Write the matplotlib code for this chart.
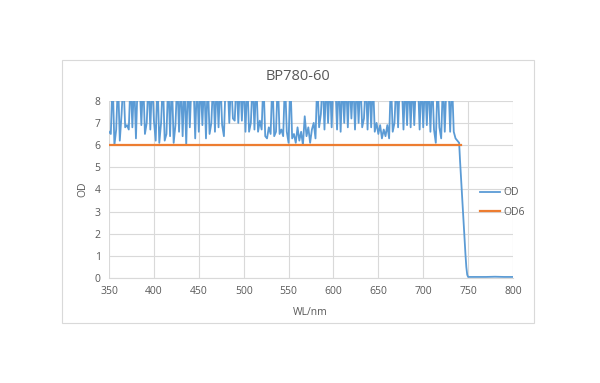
import numpy as np
import matplotlib
matplotlib.use("Agg")
from matplotlib import pyplot as plt
from matplotlib.patches import Rectangle

# OD readings every 2 nm from 350 to 738 nm (values above 8 run off the top)
od_band = [
    6.6, 6.5, 9, 6.0, 6.7, 9, 6.2, 7.4, 9, 6.8,
    6.9, 6.7, 9, 6.8, 9, 6.3, 9, 9, 6.9, 9,
    6.5, 7.0, 9, 6.7, 9, 7.1, 6.2, 9, 6.1, 7.0,
    9, 6.2, 6.5, 9, 6.4, 9, 6.1, 6.9, 9, 6.6,
    9, 6.4, 9, 6.0, 9, 6.8, 9, 9, 6.3, 9,
    6.6, 9, 6.9, 9, 6.3, 9, 6.5, 7.0, 9, 6.6,
    9, 6.8, 9, 6.9, 6.4, 9, 9, 7.0, 9, 7.2,
    7.1, 9, 7.0, 9, 7.1, 9, 6.6, 9, 6.6, 7.0,
    9, 6.7, 9, 6.6, 7.1, 6.7, 9, 6.4, 6.3, 6.8,
    6.5, 9, 6.4, 6.6, 9, 6.5, 6.7, 6.4, 9, 6.6,
    6.1, 9, 6.3, 6.5, 6.1, 6.8, 6.2, 6.6, 6.0, 7.3,
    6.4, 6.8, 6.1, 6.7, 7.0, 6.3, 9, 6.8, 7.4, 9,
    6.7, 9, 7.0, 9, 6.8, 9, 9, 6.7, 9, 6.6,
    9, 7.0, 9, 6.8, 9, 7.2, 9, 6.7, 9, 7.0,
    9, 6.8, 7.2, 9, 6.7, 9, 6.8, 9, 6.6, 7.0,
    6.5, 6.9, 6.3, 6.7, 6.4, 6.9, 6.3, 9, 6.6, 7.0,
    9, 6.8, 9, 9, 6.7, 9, 6.9, 9, 6.8, 9,
    6.9, 9, 9, 6.7, 9, 6.8, 9, 6.9, 9, 6.6,
    9, 6.7, 6.1, 9, 6.8, 6.3, 9, 6.6, 9, 9,
    6.6, 9, 6.6, 6.3, 6.2,
]
wl_band = list(range(350, 740, 2))

# edge of the band, then the flat floor out to 800 nm
wl_edge = [740, 741, 742, 743, 744, 745, 746, 747, 748, 749, 750,
           760, 770, 780, 790, 800]
od_edge = [6.1, 5.3, 4.6, 3.9, 3.2, 2.5, 1.8, 1.1, 0.5, 0.15, 0.05,
           0.05, 0.05, 0.06, 0.05, 0.05]

wl = wl_band + wl_edge
od = od_band + od_edge

od6_wl = [350, 742]
od6_val = [6, 6]

x_ticks = [350, 400, 450, 500, 550, 600, 650, 700, 750, 800]
y_ticks = [0, 1, 2, 3, 4, 5, 6, 7, 8]

plt.rcParams['font.family'] = ['Open Sans', 'DejaVu Sans']
txt = '#595959'

fig = plt.figure(figsize=(6, 3.83), dpi=100)
fig.patch.set_facecolor('white')

# chart frame like the Excel chart area
fig.patches.append(Rectangle((0.103, 0.157), 0.787, 0.686, transform=fig.transFigure,
                             fill=False, edgecolor='#D9D9D9', linewidth=0.8))

ax = fig.add_axes([0.1817, 0.274, 0.6733, 0.463])
ax.plot(wl, od, color='#5B9BD5', linewidth=1.3, label='OD')
ax.plot(od6_wl, od6_val, color='#ED7D31', linewidth=1.6, label='OD6')

ax.set_xlim(350, 800)
ax.set_ylim(0, 8)
ax.set_xticks(x_ticks)
ax.set_yticks(y_ticks)
ax.grid(True, color='#D9D9D9', linewidth=0.8)
ax.set_axisbelow(True)
for s in ['top', 'right', 'left']:
    ax.spines[s].set_visible(False)
ax.spines['bottom'].set_color('#D9D9D9')
ax.tick_params(axis='both', length=0, labelsize=7.5, labelcolor=txt, pad=6)

fig.text(0.497, 0.80, 'BP780-60', ha='center', va='center', fontsize=10.5, color=txt)
fig.text(0.138, 0.505, 'OD', ha='center', va='center', rotation=90, fontsize=7.5, color=txt)
fig.text(0.517, 0.185, 'WL/nm', ha='center', va='center', fontsize=7.5, color=txt)

fig.legend(loc='center left', bbox_to_anchor=(0.785, 0.471), frameon=False,
           fontsize=7.5, labelcolor=txt, handlelength=1.9, handletextpad=0.3,
           labelspacing=0.8)

fig.savefig('out.png', dpi=100)
